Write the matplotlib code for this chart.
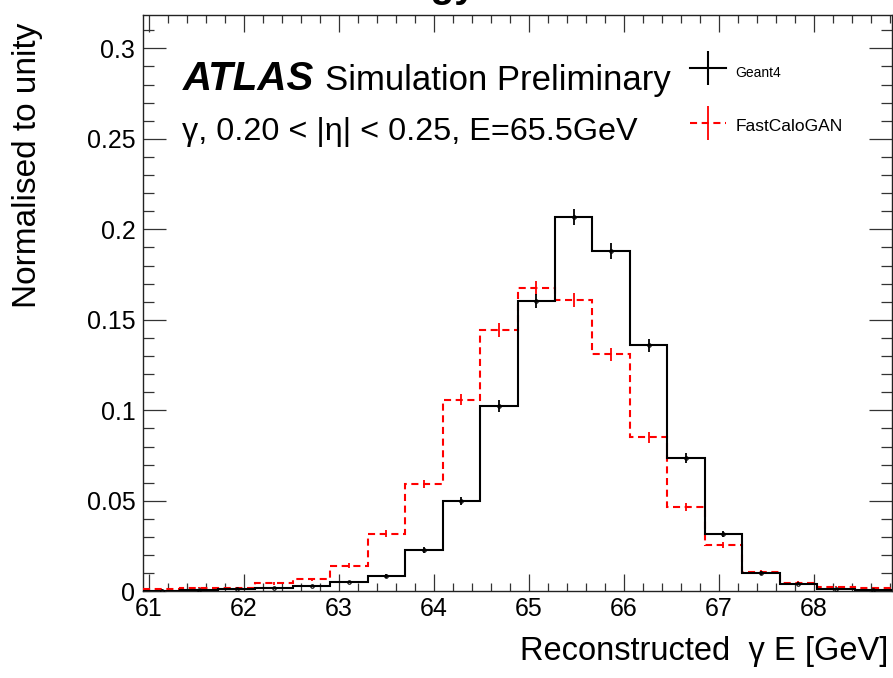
import numpy as np
import matplotlib
matplotlib.use("Agg")
import matplotlib.pyplot as plt
from matplotlib.lines import Line2D
from matplotlib.ticker import MultipleLocator, FixedLocator

plt.rcParams['font.family'] = ['Liberation Sans', 'DejaVu Sans']

# ---- data ----
x_lo, x_hi, n_bins = 60.94, 68.82, 20
geant4 = [0.0003, 0.0006, 0.0010, 0.0017, 0.0030, 0.0052, 0.0085, 0.0227, 0.0498, 0.1024,
          0.1605, 0.2068, 0.1880, 0.1360, 0.0736, 0.0315, 0.0100, 0.0043, 0.0011, 0.0005]
geant4_err = [0.00017, 0.00024, 0.00031, 0.0004, 0.00054, 0.0007, 0.0009, 0.0015, 0.0022, 0.0031,
              0.0039, 0.0045, 0.0042, 0.0036, 0.0027, 0.0017, 0.0010, 0.00064, 0.00033, 0.00022]
fastcalogan = [0.0010, 0.0020, 0.0020, 0.0044, 0.0066, 0.0142, 0.0319, 0.0592, 0.1059, 0.1444,
               0.1675, 0.1607, 0.1310, 0.0850, 0.0467, 0.0256, 0.0109, 0.0048, 0.0026, 0.0017]
fastcalogan_err = [0.0003, 0.00044, 0.00044, 0.00065, 0.0008, 0.0012, 0.0018, 0.0024, 0.0032, 0.0037,
                   0.0040, 0.0039, 0.0035, 0.0029, 0.0021, 0.0016, 0.0010, 0.00068, 0.0005, 0.0004]
x_major_ticks = [61, 62, 63, 64, 65, 66, 67, 68]
y_major_ticks = [0, 0.05, 0.1, 0.15, 0.2, 0.25, 0.3]
y_tick_labels = ["0", "0.05", "0.1", "0.15", "0.2", "0.25", "0.3"]

edges = np.linspace(x_lo, x_hi, n_bins + 1)
centers = 0.5 * (edges[:-1] + edges[1:])

W, H = 893, 678
fig = plt.figure(figsize=(W / 100, H / 100), dpi=100)
ax = fig.add_axes([143 / W, 1 - 591.3 / H, (892 - 143) / W, (591.3 - 15) / H])

red_ls = (0, (3.4, 2.2))
ax.stairs(fastcalogan, edges, baseline=None, color='#ff0000', lw=1.5, linestyle=red_ls, zorder=3)
ax.errorbar(centers, fastcalogan, yerr=fastcalogan_err, fmt='none', ecolor='#ff0000',
            elinewidth=1.3, capsize=0, zorder=3)
ax.stairs(geant4, edges, baseline=None, color='black', lw=1.5, zorder=4)
ax.errorbar(centers, geant4, yerr=geant4_err, fmt='o', ms=2.5, mfc='none', mec='black',
            mew=0.8, ecolor='black', elinewidth=1.3, capsize=0, zorder=4)

ax.set_xlim(x_lo, x_hi)
ax.set_ylim(0, 0.3184)
ax.xaxis.set_major_locator(FixedLocator(x_major_ticks))
ax.xaxis.set_minor_locator(MultipleLocator(0.2))
ax.yaxis.set_major_locator(FixedLocator(y_major_ticks))
ax.set_yticklabels(y_tick_labels)
ax.yaxis.set_minor_locator(MultipleLocator(0.01))

ax.tick_params(which='both', direction='in', top=True, right=True, labelsize=18,
               color='#333333', width=0.9)
ax.tick_params(axis='x', which='major', length=12.2, pad=4)
ax.tick_params(axis='x', which='minor', length=5.8)
ax.tick_params(axis='y', which='major', length=16.5, pad=5.5)
ax.tick_params(axis='y', which='minor', length=8)
for s in ax.spines.values():
    s.set_linewidth(1.0)
    s.set_color('#222222')

# texts
fig.text(183 / W, 1 - 90 / H, "ATLAS", fontsize=29, fontweight='bold', fontstyle='italic',
         ha='left', va='baseline')
fig.text(325 / W, 1 - 90 / H, "Simulation Preliminary", fontsize=25, ha='left', va='baseline')
fig.text(182 / W, 1 - 140 / H, "γ, 0.20 < |η| < 0.25, E=65.5GeV", fontsize=23.3,
         ha='left', va='baseline')
fig.text(888 / W, 1 - 660 / H, "Reconstructed  γ E [GeV]", fontsize=23.5, ha='right', va='baseline')
fig.text(28 / W, 1 - 23 / H, "Normalised to unity", fontsize=24, rotation=90,
         ha='center', va='top')
fig.text(476 / W, 1 + 3 / H, "Energy", fontsize=28, fontweight='bold', ha='right', va='baseline')

# legend
h1 = Line2D([], [], color='black', lw=1.5, marker='|', ms=24, mew=1.5)
h2 = Line2D([], [], color='#ff0000', lw=1.5, linestyle=red_ls, marker='|', ms=24, mew=1.3)
leg = ax.legend([h1, h2], ["Geant4", "FastCaloGAN"], loc='upper left',
                bbox_to_anchor=(690 / W, 1 - 60 / H), bbox_transform=fig.transFigure,
                frameon=False, fontsize=12.5, handlelength=2.1, handletextpad=0.5,
                handleheight=1.6, labelspacing=1.85, borderpad=0, borderaxespad=0, numpoints=1)
leg.get_texts()[0].set_fontsize(10)

fig.savefig("out.png", dpi=100)
